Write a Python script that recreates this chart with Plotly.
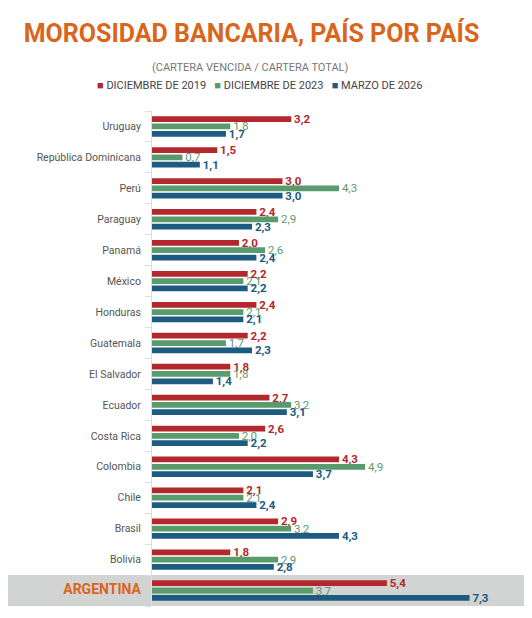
import plotly.graph_objects as go

paises = ['Uruguay', 'República Dominicana', 'Perú', 'Paraguay', 'Panamá', 'México',
          'Honduras', 'Guatemala', 'El Salvador', 'Ecuador', 'Costa Rica', 'Colombia',
          'Chile', 'Brasil', 'Bolivia', 'ARGENTINA']
dic_2019 = [3.2, 1.5, 3.0, 2.4, 2.0, 2.2, 2.4, 2.2, 1.8, 2.7, 2.6, 4.3, 2.1, 2.9, 1.8, 5.4]
dic_2023 = [1.8, 0.7, 4.3, 2.9, 2.6, 2.1, 2.1, 1.7, 1.8, 3.2, 2.0, 4.9, 2.1, 3.2, 2.9, 3.7]
mar_2026 = [1.7, 1.1, 3.0, 2.3, 2.4, 2.2, 2.1, 2.3, 1.4, 3.1, 2.2, 3.7, 2.4, 4.3, 2.8, 7.3]

FONT = 'Roboto, sans-serif'
NARANJA = '#D9661C'


def coma(vals):
    return [f'{v:.1f}'.replace('.', ',') for v in vals]


series = [
    ('DICIEMBRE DE 2019', dic_2019, '#B3282D', True),
    ('DICIEMBRE DE 2023', dic_2023, '#5A9B6E', False),
    ('MARZO DE 2026', mar_2026, '#1D5B80', True),
]

fig = go.Figure()
for name, vals, color, bold in series:
    fig.add_trace(go.Bar(
        y=paises, x=vals, orientation='h', name=name,
        marker=dict(color=color, line=dict(width=0)),
        # espacio duro para separar la cifra del final de la barra
        text=[('&nbsp;<b>%s</b>' if bold else '&nbsp;%s') % t for t in coma(vals)],
        textposition='outside', cliponaxis=False, constraintext='none',
        textfont=dict(family=FONT, size=11.5, color=color),
    ))

# etiquetas del eje, Argentina resaltada
ticktext = [p if p != 'ARGENTINA' else
            f"<span style='color:{NARANJA};font-size:14px'><b>ARGENTINA</b></span>"
            for p in paises]

# franja gris de Argentina
fig.add_shape(type='rect', xref='paper', yref='y', x0=-1, x1=1.5,
              y0=14.5, y1=15.5, fillcolor='#D2D3D3', line=dict(width=0), layer='below')

# leyenda como texto, en una sola línea
leyenda = '   '.join(f"<span style='color:{c}'>■</span> {n}" for n, _, c, _ in series)

fig.update_yaxes(autorange='reversed', tickmode='array', tickvals=paises, ticktext=ticktext,
                 showline=True, linecolor='#DDDDDD', linewidth=1,
                 ticks='outside', tickson='boundaries', ticklen=6, tickcolor='#DDDDDD',
                 ticklabelstandoff=8,
                 tickfont=dict(family=FONT, size=10.5, color='#555555'), showgrid=False)
fig.update_xaxes(range=[0, 8], visible=False)

# la página añade 8px de margen, así que todo va desplazado 8px
fig.update_layout(
    width=532, height=618,
    barmode='group', bargap=0.29, bargroupgap=0.22,
    margin=dict(l=144, r=40, t=103, b=20, autoexpand=False),
    paper_bgcolor='white', plot_bgcolor='rgba(0,0,0,0)',
    showlegend=False,
    title=dict(text='<b>MOROSIDAD BANCARIA, PAÍS POR PAÍS</b>', x=0.4577, xanchor='center',
               y=0.9595, yanchor='middle',
               font=dict(family=FONT, size=25, color=NARANJA)),
    annotations=[
        dict(text='(CARTERA VENCIDA / CARTERA TOTAL)', xref='paper', yref='paper',
             x=0.284, y=1.087, xanchor='center', yanchor='middle', showarrow=False,
             font=dict(family=FONT, size=11, color='#777777')),
        dict(text=leyenda, xref='paper', yref='paper',
             x=0.31, y=1.0525, xanchor='center', yanchor='middle', showarrow=False,
             font=dict(family=FONT, size=11, color='#444444')),
    ],
)

fig.write_html('out.html')
